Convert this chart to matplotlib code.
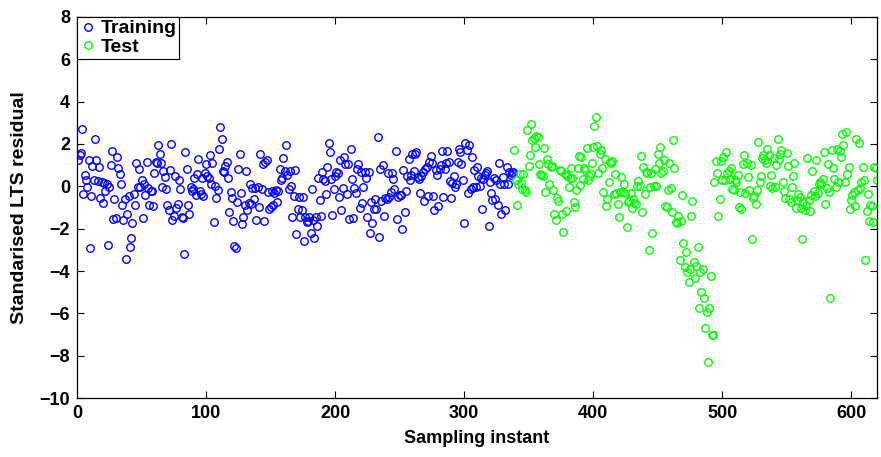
import matplotlib
matplotlib.use('Agg')
import matplotlib.pyplot as plt
import numpy

plt.rcParams['font.family'] = ['Liberation Sans', 'DejaVu Sans']
plt.rcParams['font.weight'] = 'bold'

#residuals, one per sampling instant
train = [1.24, 1.48, 1.59, 2.69, -0.37, 0.53, 0.3, -0.02, 1.24, -2.9,
         -0.48, 0.97, 0.3, 2.25, 1.24, 0.25, 0.92, -0.56, 0.2, -0.77,
         0.15, -0.24, 0.1, -2.79, -0.02, 1.0, 1.68, -1.56, -0.58, -1.51,
         1.40, 0.86, 0.58, 0.1, -0.9, -1.59, -0.58, -3.43, -1.32, -0.45,
         -2.88, -2.46, -1.75, -0.37, -0.9, 1.12, -0.05, 0.81, -0.02, 0.3,
         -1.51, 0.1, -0.4, 1.14, -0.1, -0.86, -0.2,
         -0.2, -0.94, 0.65, 1.16, 1.08, 1.95, 1.53, 1.11, -0.04, 0.7,
         0.43, -0.13, -0.87, -1.12, 0.78, 1.98, -1.6, -1.4, 0.51, -1.04,
         -0.84, 0.28, -0.12, -1.44, -1.52, -3.22, 1.6, 0.81, -0.88, -1.3,
         -0.05, -0.22, -0.11, 0.38, -0.4, 0.58, 1.27, -0.22, -0.36, 0.38,
         -0.44, 0.65, 1.06, 0.51, 0.41, 1.48, 0.11, 1.09, -1.7, 0.02,
         -0.53, -0.17, 1.75, 2.78, 2.22, 0.7,
         0.69, 0.97, 1.16, 0.38, -1.21, -0.25, -0.53, -1.62, -2.82, -2.9,
         -0.72, 0.8, 1.53, -0.3, -1.79, -1.46, -0.87, 0.72, -1.12, -0.8,
         0.11, -0.84, -0.09, -0.61, -0.06, -1.57, -0.04, -0.98, 1.54, -0.12,
         1.03, -1.62, 1.13, 1.24, -0.28, -1.06, -0.98, -0.22, -0.87, -0.33,
         -0.17, -0.72, -0.2, 0.8, 0.3, 0.38, 1.32, 0.72, 1.93, 0.53,
         -0.12, 0.72, 0.02, -1.43, -0.44, 0.75, -2.27,
         -1.06, -0.49, -1.46, -1.12, -0.49, -2.58, -1.43, -1.7, -1.62, -1.46,
         -2.22, -0.14, -1.59, -2.46, -1.46, -1.87, 0.38, -0.65, -1.4, 0.69,
         0.33, 0.25, -0.38, 0.89, 2.03, 1.63, 0.33, -1.36, -0.14, 0.49,
         0.67, 0.61, -0.52, 1.24, -1.12, -0.06, 1.4, 1.04, -0.38, 1.04,
         -1.54, 1.74, 0.33, -1.48, -0.09, -0.33, 0.8, 1.04, -1.01, 0.66,
         -0.8, -0.01, 0.69, 0.41, -1.46, 0.69, -2.22,
         -0.74, -1.75, -1.06, -0.59, -1.07, 2.31, -2.41, 0.8, -0.68, 1.0,
         -1.4, -0.57, -0.62, 0.61, -0.52, -0.27, 0.64, 0.36, -0.14, 1.65,
         -1.53, -0.52, -0.43, -0.39, -2.03, 0.77, -1.2, -0.2, 0.49, 1.28,
         0.3, 0.52, 1.53, 0.74, 1.53, 1.6, 0.45, 0.33, -0.33, 0.49,
         0.69, -0.68, 0.83, 0.9, -0.46, 1.16, 1.43, 1.08, -0.46, -1.12,
         0.77, 0.53, -0.93, 0.8, 1.0, 1.68,
         -0.52, 0.8, 1.12, 1.68, 1.16, 0.27, -0.57, 0.17, 0.49, -0.02,
         0.11, 1.16, 1.75, 1.6, 1.05, 0.3, -1.75, 2.06, 1.71, -0.3,
         1.95, -0.14, 1.37, -0.05, 0.77, -0.05, 0.9, 0.49, 0.01, 0.38,
         -1.05, 0.33, 0.52, 0.61, 0.74, -1.87, 0.2, -0.33, -0.65, 0.38,
         -0.62, 0.3, -0.87, 1.08, 0.11, -1.31, 0.45, 0.11, -1.1, 0.93,
         0.11, 0.69, 0.53, 0.64, 0.68]

test = [1.71, 0.3, -0.89,
        0.09, 0.57, 0.14, -0.13, 0.58, -0.17, -0.28, 2.68, 0.97, 1.48,
        2.96, 2.19, 2.27, 1.86, 2.39, 2.33, 1.04, 0.58, 0.53, 0.5,
        1.79, -0.28, 1.27, 1.04, 0.09, 0.91, 0.96, -0.17, -1.32, -1.58,
        -0.54, -0.69, 0.75, 0.72, -1.32, -2.14, 0.57, -1.17, 0.47, -0.02,
        0.38, 0.88, 0.41, -0.73, -0.99, -0.16, 0.85, 1.43, 0.06, 1.37,
        0.34, 0.85, 0.75, 1.79, 0.31, 0.49,
        0.6, 1.1, 1.86, 2.86, 3.27, 1.89, 0.64, 1.54, 1.71, 0.85,
        -0.25, 1.27, -0.91, -0.6, 0.2, 1.13, 1.09, 1.2, -0.38, 0.57,
        -0.3, -0.82, -1.46, -0.25, 0.43, -0.28, 0.12, -0.33, -1.94, -0.73,
        -0.7, -0.32, -1.04, -0.6, -0.77, -0.82, 0.01, 0.25, 0.01, 1.44,
        -1.23, 0.93, -0.35, 0.69, 0.61, -3.01, -0.02, 0.64, -2.21, 0.01,
        0.82, 0.01, 1.51, 1.09, 1.87, 0.61,
        0.72, 1.24, -0.93, -0.98, -0.17, 1.12, -0.06, -1.2, 2.19, 0.88,
        -1.7, -1.75, -1.4, -3.48, -1.64, -0.42, -2.7, -3.8, -3.09, -4.03,
        -4.5, -3.91, -1.4, -0.71, -3.56, -4.35, -3.76, -2.87, -5.73, -4.03,
        -4.98, -3.91, -5.26, -6.71, -5.92, -8.3, -5.73, -4.25, -7.0, -7.03,
        0.22, 1.21, 0.64, -1.4, -0.6, 1.21, 0.28, 1.37, 0.3, 1.64,
        0.61, 0.72, 0.35, 0.85, -0.13,
        -0.19, 0.31, 0.22, 0.53, -0.96, -0.25, -1.09, 1.07, 1.48, -0.3,
        1.09, 0.45, -0.19, 1.01, -2.49, -0.57, -0.44, -0.82, -0.19, 2.11,
        0.22, 0.5, 1.35, 1.48, 1.26, 1.1, 1.76, 1.48, 0.01, 0.53,
        -0.09, 1.32, -0.05, 1.01, 2.24, 1.29, 1.51, 1.71, 0.22, -0.22,
        -0.57, 1.59, 0.96, -0.6, -0.73, -0.03, 0.5, 1.09, -1.04, -0.65,
        -0.38, -0.49, -1.01, -2.49, -0.73, -1.12, -0.88,
        1.32, -0.65, -1.16, -0.41, 0.74, -0.22, -0.44, 1.23, -0.33, 0.09,
        0.19, 0.12, 0.35, 1.64, -0.85, -0.06, 1.05, -0.25, -5.29, 1.71,
        0.88, 0.35, -0.02, 1.76, 0.19, 1.67, 1.38, 2.49, 1.95, 0.19,
        2.55, 0.6, 0.9, -1.07, -0.65, -0.41, -0.28, -0.91, 2.23, -0.19,
        2.05, -0.06, 0.22, 0.91, 0.28, -3.5, -1.16, -0.38, -1.64, -0.88,
        -0.94, -1.7, 0.91, 0.88, 0.28]

xTrain = numpy.arange(1, len(train) + 1)
xTest = numpy.arange(len(train) + 1, len(train) + len(test) + 1)

fig = plt.figure(figsize=(8.81, 4.57), dpi=100)
ax = fig.add_axes([0.0874, 0.129, 0.908, 0.834])

ax.plot(xTrain, train, 'o', mfc='none', mec='#0000ff', ms=5.4, mew=1.0, label='Training')
ax.plot(xTest, test, 'o', mfc='none', mec='#00ff00', ms=5.4, mew=1.0, label='Test')

ax.set_xlim(0, 620)
ax.set_ylim(-10, 8)
ax.set_xticks(range(0, 601, 100))
ax.set_yticks(range(-10, 9, 2))
ax.tick_params(direction='in', top=True, right=True, labelsize=13, length=5, width=0.8, pad=5)
for s in ax.spines.values():
    s.set_linewidth(0.9)

ax.set_xlabel('Sampling instant', fontsize=13, fontweight='bold', labelpad=6)
ax.set_ylabel('Standarised LTS residual', fontsize=14, fontweight='bold', labelpad=8)

leg = ax.legend(loc='upper left', fontsize=14, fancybox=False, framealpha=1,
                edgecolor='black', borderpad=0.15, handletextpad=0.25,
                handlelength=0.8, labelspacing=0.05, borderaxespad=0.0)
leg.get_frame().set_linewidth(0.8)

plt.savefig('out.png', dpi=100)
